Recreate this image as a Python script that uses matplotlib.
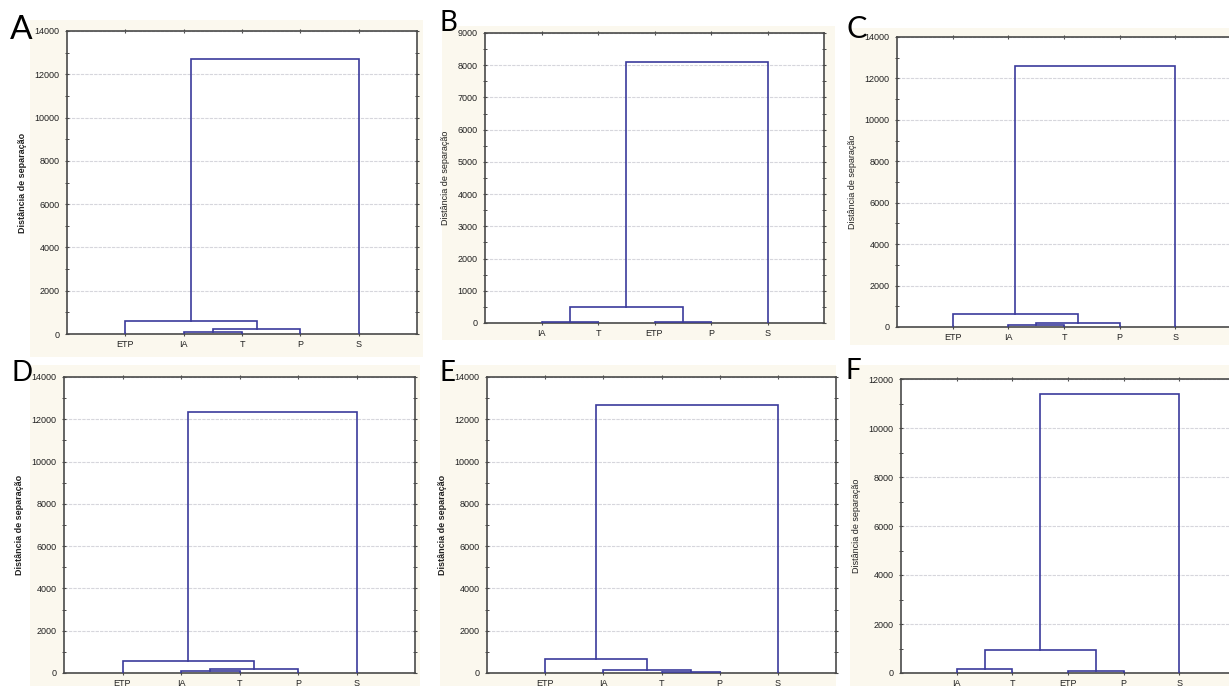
import matplotlib
matplotlib.use('Agg')
import matplotlib.pyplot as plt
from matplotlib.patches import Rectangle
from matplotlib.ticker import MultipleLocator

W, H = 1229, 686

# --- data -------------------------------------------------------------
# each panel: leaf order, merges (child indices, new clusters numbered from 5) and merge heights
leaves_A = ['ETP', 'IA', 'T', 'P', 'S']
pairs_A = [(1, 2), (5, 3), (0, 6), (7, 4)]
heights_A = [80, 210, 600, 12700]

leaves_B = ['IA', 'T', 'ETP', 'P', 'S']
pairs_B = [(0, 1), (2, 3), (5, 6), (7, 4)]
heights_B = [40, 40, 490, 8100]

leaves_C = ['ETP', 'IA', 'T', 'P', 'S']
pairs_C = [(1, 2), (5, 3), (0, 6), (7, 4)]
heights_C = [80, 180, 610, 12600]

leaves_D = ['ETP', 'IA', 'T', 'P', 'S']
pairs_D = [(1, 2), (5, 3), (0, 6), (7, 4)]
heights_D = [80, 190, 585, 12350]

leaves_E = ['ETP', 'IA', 'T', 'P', 'S']
pairs_E = [(2, 3), (1, 5), (0, 6), (7, 4)]
heights_E = [40, 130, 660, 12680]

leaves_F = ['IA', 'T', 'ETP', 'P', 'S']
pairs_F = [(0, 1), (2, 3), (5, 6), (7, 4)]
heights_F = [170, 80, 920, 11400]

letters = ['A', 'B', 'C', 'D', 'E', 'F']
y_max = [14000, 9000, 14000, 14000, 14000, 12000]
y_step = [2000, 1000, 2000, 2000, 2000, 2000]
ylabel = 'Distância de separação'

# --- layout (pixels: left, right, top, bottom) ------------------------
axes_px = [(67, 417, 31, 334), (485, 824, 33, 323), (897, 1231, 37, 327),
           (64, 415, 377, 673), (487, 836, 377, 673), (901, 1235, 379, 673)]
cream_px = [(30, 423, 20, 357), (442, 835, 26, 340), (850, 1229, 28, 345),
            (30, 420, 365, 686), (440, 836, 365, 686), (850, 1229, 365, 686)]
letter_px = [(10, 39, 24), (440, 31, 20), (846, 38, 22),
             (11, 381, 20), (439, 381, 20), (846, 379, 20)]
label_bold = [True, False, False, True, True, False]

line_c = '#3b3b9c'
spine_c = '#4a4a4a'

fig = plt.figure(figsize=(W / 100, H / 100), dpi=100)
fig.patch.set_facecolor('white')
plt.rcParams['font.family'] = ['Liberation Sans', 'DejaVu Sans']


def draw_tree(ax, pairs, heights, n):
	xs = list(range(1, n + 1))
	ys = [0] * n
	for (a, b), h in zip(pairs, heights):
		ax.plot([xs[a], xs[a], xs[b], xs[b]], [ys[a], h, h, ys[b]],
				color=line_c, lw=1.2, solid_joinstyle='miter', zorder=3)
		xs.append((xs[a] + xs[b]) / 2)
		ys.append(h)


panels = [(leaves_A, pairs_A, heights_A), (leaves_B, pairs_B, heights_B),
		  (leaves_C, pairs_C, heights_C), (leaves_D, pairs_D, heights_D),
		  (leaves_E, pairs_E, heights_E), (leaves_F, pairs_F, heights_F)]

for i, (leaves, pairs, heights) in enumerate(panels):
	cl, cr, ct, cb = cream_px[i]
	fig.add_artist(Rectangle((cl / W, 1 - cb / H), (cr - cl) / W, (cb - ct) / H,
							 transform=fig.transFigure, facecolor='#fbf8ee',
							 edgecolor='none', zorder=-1))

	l, r, t, b = axes_px[i]
	ax = fig.add_axes([l / W, 1 - b / H, (r - l) / W, (b - t) / H])
	ax.set_facecolor('white')
	draw_tree(ax, pairs, heights, len(leaves))

	ax.set_xlim(0, len(leaves) + 1)
	ax.set_ylim(0, y_max[i])
	ax.set_xticks(range(1, len(leaves) + 1))
	ax.set_xticklabels(leaves)
	ax.yaxis.set_major_locator(MultipleLocator(y_step[i]))
	ax.yaxis.set_minor_locator(MultipleLocator(y_step[i] / 2))
	ax.yaxis.grid(True, color='#d6d6dc', lw=0.8, ls=(0, (3, 1)))
	ax.set_axisbelow(True)

	ax.tick_params(axis='both', which='major', direction='inout', length=3, width=0.8,
				   color=spine_c, labelsize=6.5, labelcolor='#222222',
				   top=True, right=True, pad=3)
	ax.tick_params(axis='y', which='major', pad=4)
	ax.tick_params(axis='y', which='minor', direction='inout', length=2.5, width=0.7,
				   color=spine_c, right=True)
	for s in ax.spines.values():
		s.set_color(spine_c)
		s.set_linewidth(1.2)

	ax.set_ylabel(ylabel, fontsize=6.5, color='#222222',
				  fontweight='bold' if label_bold[i] else 'normal', labelpad=5)

	lx, ly, fs = letter_px[i]
	fig.text(lx / W, 1 - ly / H, letters[i], fontsize=fs, family='Lato',
			 ha='left', va='baseline', color='black')

fig.savefig('out.png', dpi=100)
